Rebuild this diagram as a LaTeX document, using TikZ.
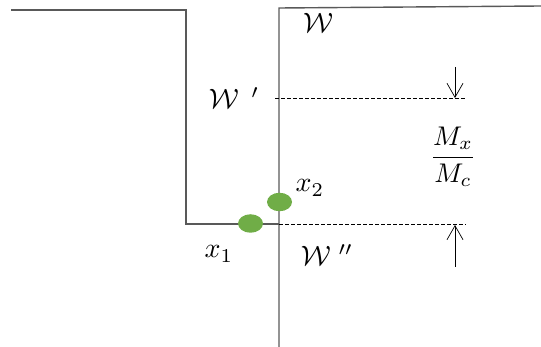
\documentclass[tikz,border=0pt]{standalone}
\usepackage{graphicx}
\usepackage{amsmath}
\usetikzlibrary{arrows.meta,shapes.geometric}
\definecolor{wall}{HTML}{595959}
\definecolor{blob}{HTML}{70AD47}
\newcommand{\biglbl}[1]{\scalebox{2.8}{#1}}
\newcommand{\fraclbl}[1]{\scalebox{2.7}{#1}}
\begin{document}
\begin{tikzpicture}[x=1pt,y=-1pt,
  wallline/.style={draw=wall,line width=1.4pt},
  guide/.style={draw=black,line width=0.6pt,dash pattern=on 3.5pt off 2.5pt},
  dimarrow/.style={draw=black,line width=0.7pt,-{Straight Barb[length=14pt,width=16pt,line width=0.7pt]}},
  particle/.style={ellipse,fill=blob,minimum width=25pt,minimum height=18.5pt,inner sep=0pt},
  lbl/.style={inner sep=0pt}]
\useasboundingbox (0,0) rectangle (541,347);
% walls
\draw[wallline] (11,10) -- (186,10) -- (186,224) -- (279,224);
\draw[wallline] (541,6) -- (279,8) -- (279,347);
% guides
\coordinate (g1a) at (275,98);
\coordinate (g1b) at (466,98);
\coordinate (g2a) at (279,224);
\coordinate (g2b) at (466,224);
\draw[guide] (g1a) -- (g1b);
\draw[guide] (g2a) -- (g2b);
% dimension arrows
\coordinate (a1s) at (455,67);
\coordinate (a1e) at (455,98);
\coordinate (a2s) at (455,267);
\coordinate (a2e) at (455,225);
\draw[dimarrow] (a1s) -- (a1e);
\draw[dimarrow] (a2s) -- (a2e);
% particles
\node[particle] (p1) at (250.5,223.5) {};
\node[particle] (p2) at (279.5,202) {};
% labels
\node[lbl] (W) at (318,23) {\biglbl{$\mathcal{W}$}};
\node[lbl] (Wp) at (234,98) {\biglbl{$\mathcal{W}\;\,'$}};
\node[lbl] (Wpp) at (327,255) {\biglbl{$\mathcal{W}\;''$}};
\node[lbl] (x1) at (219,254) {\biglbl{$x_1$}};
\node[lbl] (x2) at (310,188) {\biglbl{$x_2$}};
\node[lbl] (M) at (453,157) {\fraclbl{$\dfrac{M_x}{M_c}$}};
\end{tikzpicture}
\end{document}
